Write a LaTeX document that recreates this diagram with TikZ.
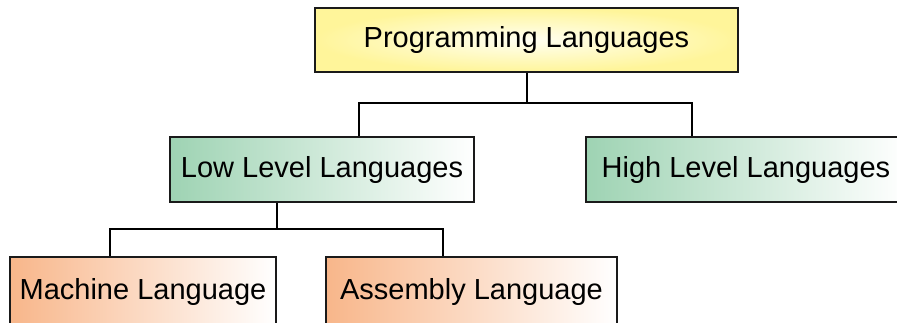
\documentclass[tikz,border=0pt]{standalone}
\usepackage{fontspec}
\setmainfont{Liberation Sans}
\usetikzlibrary{calc}
\definecolor{boxline}{HTML}{1A1A1A}
\definecolor{yelout}{HTML}{FFF59A}
\definecolor{yelin}{HTML}{FFFFF2}
\definecolor{greenl}{HTML}{9ED3B3}
\definecolor{orangel}{HTML}{F8B68A}
\begin{document}
\begin{tikzpicture}[x=1pt,y=-1pt,
  box/.style={draw=boxline, line width=2pt, inner sep=0pt, anchor=center,
    font=\fontsize{29}{34}\selectfont, text=black},
  topbox/.style={box, shading=radial, inner color=yelin, outer color=yelout},
  greenbox/.style={box, left color=greenl, right color=white},
  orangebox/.style={box, left color=orangel, right color=white},
  conn/.style={draw=black, line width=2pt}]
\clip (0,0) rectangle (897,322);
\node[topbox, minimum width=423pt, minimum height=64pt] (top) at (526.5,40) {Programming Languages};
\node[greenbox, minimum width=304pt, minimum height=65pt] (low) at (322,169.5) {Low Level Languages};
\node[greenbox, minimum width=320pt, minimum height=65pt] (high) at (746,169.5) {High Level Languages};
\node[orangebox, minimum width=266pt, minimum height=70pt] (mach) at (143,292) {\raisebox{3pt}{Machine Language}};
\node[orangebox, minimum width=291pt, minimum height=70pt] (asm) at (471.5,292) {\raisebox{3pt}{Assembly Language}};
\coordinate (lowin) at ([xshift=37pt]low.north);
\coordinate (highin) at ([xshift=-54pt]high.north);
\coordinate (lowout) at ([xshift=-45pt]low.south);
\coordinate (machin) at ([xshift=-33pt]mach.north);
\coordinate (asmin) at ([xshift=-28.5pt]asm.north);
\coordinate (bar1) at ($(top.south)+(0,30)$);
\coordinate (bar2) at ($(lowout)+(0,26)$);
\draw[conn] (top.south) -- (bar1);
\draw[conn] (lowin) |- (bar1) -| (highin);
\draw[conn] (lowout) -- (bar2);
\draw[conn] (machin) |- (bar2) -| (asmin);
\end{tikzpicture}
\end{document}
